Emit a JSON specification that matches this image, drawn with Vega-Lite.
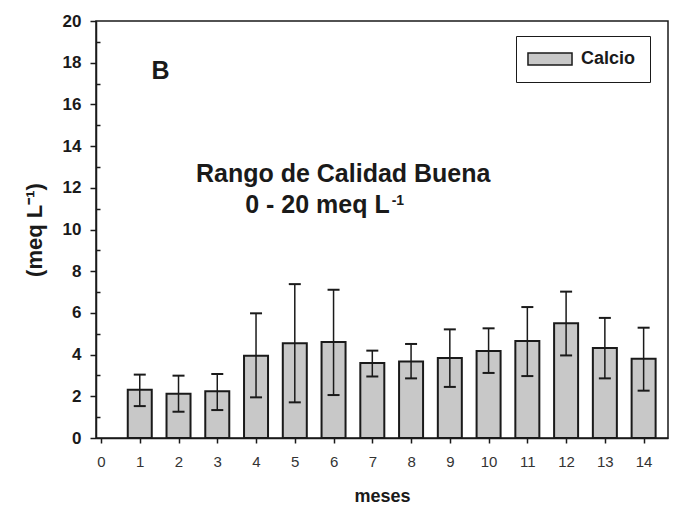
{
  "$schema": "https://vega.github.io/schema/vega-lite/v6.json",
  "autosize": "none",
  "width": 572,
  "height": 417,
  "padding": {"left": 96, "top": 21, "right": 7, "bottom": 72},
  "background": "white",
  "config": {
    "font": "Liberation Sans",
    "view": {"stroke": "#1a1a1a", "strokeWidth": 1.5}
  },
  "datasets": {
    "calcio": [
      {"mes": 1, "valor": 2.32, "lo": 1.53, "hi": 3.04, "serie": "Calcio"},
      {"mes": 2, "valor": 2.12, "lo": 1.26, "hi": 2.99, "serie": "Calcio"},
      {"mes": 3, "valor": 2.24, "lo": 1.34, "hi": 3.07, "serie": "Calcio"},
      {"mes": 4, "valor": 3.95, "lo": 1.95, "hi": 5.98, "serie": "Calcio"},
      {"mes": 5, "valor": 4.54, "lo": 1.71, "hi": 7.38, "serie": "Calcio"},
      {"mes": 6, "valor": 4.6, "lo": 2.06, "hi": 7.11, "serie": "Calcio"},
      {"mes": 7, "valor": 3.6, "lo": 2.95, "hi": 4.19, "serie": "Calcio"},
      {"mes": 8, "valor": 3.67, "lo": 2.86, "hi": 4.51, "serie": "Calcio"},
      {"mes": 9, "valor": 3.84, "lo": 2.45, "hi": 5.21, "serie": "Calcio"},
      {"mes": 10, "valor": 4.17, "lo": 3.12, "hi": 5.26, "serie": "Calcio"},
      {"mes": 11, "valor": 4.65, "lo": 2.97, "hi": 6.28, "serie": "Calcio"},
      {"mes": 12, "valor": 5.5, "lo": 3.96, "hi": 7.02, "serie": "Calcio"},
      {"mes": 13, "valor": 4.32, "lo": 2.86, "hi": 5.76, "serie": "Calcio"},
      {"mes": 14, "valor": 3.8, "lo": 2.27, "hi": 5.29, "serie": "Calcio"}
    ],
    "notas": [
      {"x": 1.3, "y": 17.22, "label": "B"},
      {"x": 2.45, "y": 12.29, "label": "Rango de Calidad Buena"},
      {"x": 3.72, "y": 10.78, "label": "0 - 20 meq L"}
    ],
    "sup": [
      {"x": 7.5, "y": 11.17, "label": "-1"}
    ]
  },
  "resolve": {"axis": {"y": "independent"}},
  "layer": [
    {
      "data": {"name": "calcio"},
      "mark": {"type": "bar", "width": 24, "stroke": "#1a1a1a", "strokeWidth": 2},
      "encoding": {
        "x": {
          "field": "mes", "type": "quantitative",
          "scale": {"domain": [0, 14.5], "nice": false, "zero": false},
          "axis": {
            "title": "meses",
            "values": [0,1,2,3,4,5,6,7,8,9,10,11,12,13,14],
            "grid": false,
            "domainColor": "#1a1a1a", "domainWidth": 1.5,
            "tickColor": "#1a1a1a", "tickWidth": 1.5, "tickSize": 5,
            "labelFont": "Liberation Sans", "labelFontSize": 15, "labelColor": "#333333",
            "labelPadding": 11, "labelFlush": false,
            "titleFont": "Liberation Sans", "titleFontSize": 18, "titleFontWeight": "bold",
            "titleColor": "#1a1a1a", "titlePadding": 18
          }
        },
        "y": {
          "field": "valor", "type": "quantitative",
          "scale": {"domain": [0, 20], "nice": false},
          "axis": {
            "title": "(meq L⁻¹)",
            "values": [0,2,4,6,8,10,12,14,16,18,20],
            "grid": false,
            "orient": "left",
            "domainColor": "#1a1a1a", "domainWidth": 1.5,
            "tickColor": "#1a1a1a", "tickWidth": 1.5, "tickSize": 6,
            "labelFont": "Liberation Sans", "labelFontSize": 17, "labelFontWeight": "bold",
            "labelColor": "#1a1a1a", "labelPadding": 9, "labelFlush": false,
            "titleFont": "Liberation Sans", "titleFontSize": 22, "titleFontWeight": "bold",
            "titleColor": "#1a1a1a", "titlePadding": 16
          }
        },
        "color": {
          "field": "serie", "type": "nominal",
          "scale": {"domain": ["Calcio"], "range": ["#c8c8c8"]},
          "legend": {
            "title": null,
            "orient": "none",
            "legendX": 420,
            "legendY": 15,
            "strokeColor": "#1a1a1a",
            "fillColor": "white",
            "padding": 14,
            "symbolType": "M-3.67,-1H3.67V1H-3.67Z",
            "symbolSize": 144,
            "symbolOffset": 11,
            "symbolStrokeColor": "#1a1a1a",
            "symbolStrokeWidth": 1.5,
            "symbolFillColor": "#c8c8c8",
            "labelOffset": 22,
            "labelFont": "Liberation Sans",
            "labelFontSize": 18,
            "labelFontWeight": "bold",
            "labelColor": "#1a1a1a"
          }
        }
      }
    },
    {
      "data": {"name": "calcio"},
      "mark": {"type": "rule", "color": "#1a1a1a", "strokeWidth": 1.5},
      "encoding": {
        "x": {"field": "mes", "type": "quantitative"},
        "y": {
          "field": "lo", "type": "quantitative",
          "axis": {
            "orient": "left",
            "title": null,
            "values": [1,3,5,7,9,11,13,15,17,19],
            "labels": false,
            "domain": false,
            "grid": false,
            "tickColor": "#1a1a1a", "tickWidth": 1.5, "tickSize": -4
          }
        },
        "y2": {"field": "hi"}
      }
    },
    {
      "data": {"name": "calcio"},
      "mark": {"type": "tick", "orient": "horizontal", "size": 12, "thickness": 2, "color": "#1a1a1a", "opacity": 1},
      "encoding": {
        "x": {"field": "mes", "type": "quantitative"},
        "y": {"field": "lo", "type": "quantitative", "axis": null}
      }
    },
    {
      "data": {"name": "calcio"},
      "mark": {"type": "tick", "orient": "horizontal", "size": 12, "thickness": 2, "color": "#1a1a1a", "opacity": 1},
      "encoding": {
        "x": {"field": "mes", "type": "quantitative"},
        "y": {"field": "hi", "type": "quantitative", "axis": null}
      }
    },
    {
      "data": {"name": "notas"},
      "mark": {"type": "text", "align": "left", "baseline": "alphabetic", "font": "Liberation Sans", "fontSize": 25, "fontWeight": "bold", "color": "#1a1a1a"},
      "encoding": {
        "x": {"field": "x", "type": "quantitative"},
        "y": {"field": "y", "type": "quantitative", "axis": null},
        "text": {"field": "label"}
      }
    },
    {
      "data": {"name": "sup"},
      "mark": {"type": "text", "align": "left", "baseline": "alphabetic", "font": "Liberation Sans", "fontSize": 14, "fontWeight": "bold", "color": "#1a1a1a"},
      "encoding": {
        "x": {"field": "x", "type": "quantitative"},
        "y": {"field": "y", "type": "quantitative", "axis": null},
        "text": {"field": "label"}
      }
    }
  ]
}
